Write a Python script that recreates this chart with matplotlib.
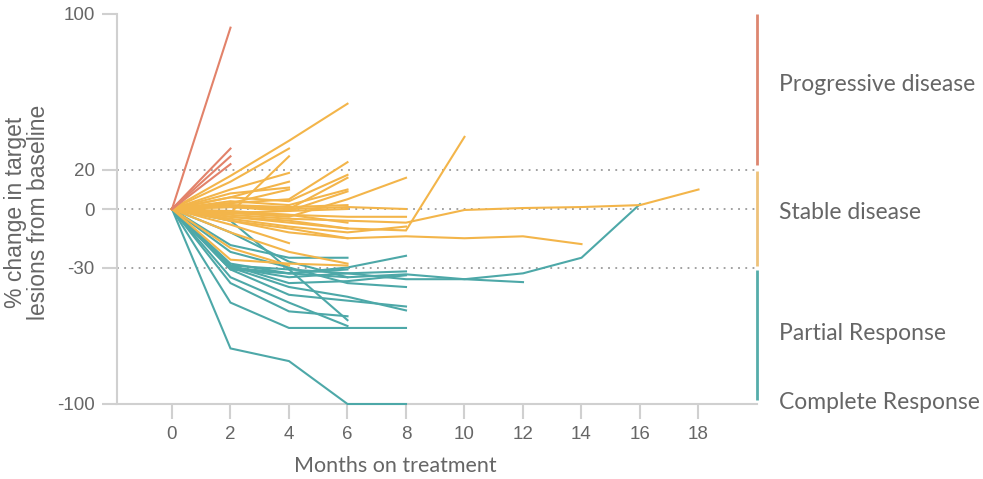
import matplotlib
matplotlib.use("Agg")
import matplotlib.pyplot as plt

plt.rcParams["axes.unicode_minus"] = False

# Assessment visits (months on treatment)
months = [0, 2, 4, 6, 8, 10, 12, 14, 16, 18]

# % change in target lesions from baseline, one list per patient (values at each visit)
progressive = [
    [0, 93],
    [0, 31],
    [0, 27],
    [0, 23],
]

stable = [
    [0, 17, 35, 54],
    [0, -2, 27],
    [0, 14, 31],
    [0, 10, 18.5],
    [0, 6, 14],
    [0, 8, 11],
    [0, 3, 10],
    [0, 3, 5, 24],
    [0, 6, 4, 17.5],
    [0, 2, 0, 16],
    [0, 4, 2, 10],
    [0, 1, -1, 9],
    [0, 2, 1, 2],
    [0, -2, -4, 5, 16],
    [0, -4, -6, -10, -11, 37],
    [0, -3, -5, -6, -7, -0.5, 0.5, 1, 2, 10],
    [0, -6, -10, -15, -14, -15, -14, -18],
    [0, -2, -3, -4, -4],
    [0, -4, -7, -10],
    [0, -6, -12, -15],
    [0, -8, -17.5],
    [0, -12, -22, -28],
    [0, -20, -29],
    [0, -2, -1, 0],
    [0, 1, 0, 1, 0],
    [0, -1, -3, -7],
    [0, -26, -28, -29],
    [0, -5, -9, -12, -9],
]

response = [
    [0, -71.5, -78, -100, -100],
    [0, -48, -61, -61, -61],
    [0, -38, -52.5, -55],
    [0, -35, -48, -60],
    [0, -6, -31, -57],
    [0, -31, -44, -47, -50],
    [0, -30, -40, -45, -52],
    [0, -30, -33, -30, -24],
    [0, -31, -33, -35, -33.5, -36, -33, -25, 2.5],
    [0, -29, -31, -33, -36, -36, -37.5],
    [0, -18.5, -25, -25],
    [0, -28, -33, -31],
    [0, -30, -35, -33, -32],
    [0, -22, -30, -38, -40],
    [0, -29, -38, -37, -34],
    [0, -12, -27, -35],
]

thresholds = [20, 0, -30]

categories = ["Progressive disease", "Stable disease", "Partial Response", "Complete Response"]
category_label_y = [64, -2, -64, -99]
band_ranges = [(100, 22.5), (19.5, -29), (-31.5, -98)]

red = "#E2826A"
yellow = "#F3B54A"
teal = "#4DA8A8"
text_gray = "#666666"
axis_gray = "#D0D0D0"

fig = plt.figure(figsize=(9.83, 4.79), dpi=100)
ax = fig.add_axes([117 / 983, 1 - 404 / 479, 640 / 983, 390 / 479])
ax.set_xlim(-1.88, 20)
ax.set_ylim(-100, 100)

# Response threshold guides
for t in thresholds:
    ax.plot([-1.88, 20], [t, t], color="#9A9A9A", lw=1.3,
            linestyle=(0, (1, 3)), zorder=1)

def draw_group(series, color, z):
    for vals in series:
        ax.plot(months[:len(vals)], vals, color=color, lw=1.5,
                solid_joinstyle="miter", zorder=z, clip_on=False)

draw_group(response, teal, 3)
draw_group(stable, yellow, 3.5)
draw_group(progressive, red, 4)

# Category bands on the right
for (top, bot), c in zip(band_ranges, ["#DD8670", "#EEC27A", "#55ADAA"]):
    ax.plot([20, 20], [top, bot], color=c, lw=2.0, clip_on=False,
            solid_capstyle="butt")

for lab, y in zip(categories, category_label_y):
    ax.text(20.75, y, lab, fontsize=16.5, family="Lato", color=text_gray,
            va="center", ha="left", clip_on=False)

# Axes styling
for s in ["top", "right"]:
    ax.spines[s].set_visible(False)
for s in ["left", "bottom"]:
    ax.spines[s].set_color(axis_gray)
    ax.spines[s].set_linewidth(1.5)

ax.set_xticks(list(range(0, 19, 2)))
ax.set_yticks([100, 20, 0, -30, -100])
ax.tick_params(axis="both", colors=axis_gray, width=1.5, length=11,
               labelcolor=text_gray, labelsize=13.5, pad=5)
for lbl in ax.get_xticklabels() + ax.get_yticklabels():
    lbl.set_family("Liberation Sans")

fig.text(395 / 983, 1 - 466 / 479, "Months on treatment", fontsize=15.5,
         family="Lato", color=text_gray, ha="center", va="center")
fig.text(27 / 983, 1 - 212 / 479, "% change in target\nlesions from baseline",
         fontsize=16.5, family="Liberation Sans", color=text_gray,
         rotation=90, ha="center", va="center", multialignment="center",
         linespacing=1.0)

fig.savefig("out.png", dpi=100, facecolor="white")
